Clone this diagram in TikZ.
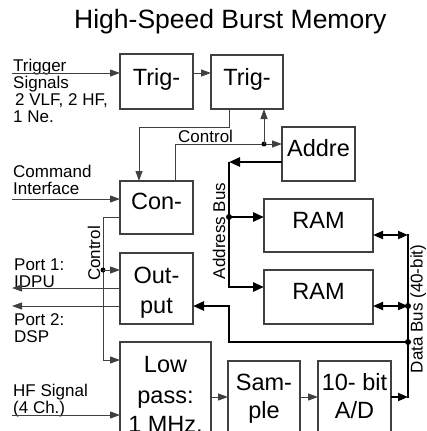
\documentclass[tikz,border=0pt]{standalone}
\usepackage{fontspec}
\setmainfont{Liberation Sans}
\usetikzlibrary{arrows.meta,calc}
\begin{document}
\begin{tikzpicture}[x=1pt,y=-1pt,
  box/.style={draw=black!75,line width=1.1pt},
  big/.style={font=\fontsize{23.5}{30}\selectfont,inner sep=0pt,anchor=base},
  small/.style={font=\fontsize{17}{17.5}\selectfont,inner sep=0pt,anchor=base west},
  thin/.style={draw=black!75,line width=1pt},
  arr/.style={thin,-{Triangle[length=10pt,width=7pt]}},
  bus/.style={draw=black,line width=2.6pt,line join=miter},
  busarr/.style={bus,-{Triangle[length=11pt,width=9pt]}},
  bidir/.style={draw=black,line width=1.8pt,{Triangle[length=10pt,width=8pt]}-{Triangle[length=10pt,width=8pt]}},
  dot/.style={circle,fill=black,inner sep=0pt,minimum size=5pt},
  area/.style={inner sep=0pt,outer sep=0pt,rectangle}
]
\useasboundingbox (0,0) rectangle (427,431);

% title
\node[font=\fontsize{26.5}{30}\selectfont,anchor=base west,inner sep=0pt] (title) at (74,28) {High-Speed Burst Memory};

% boxes
\draw[box] (120,54) rectangle (193,109) node[area,midway,minimum width=73pt,minimum height=55pt] (trigA) {};
\draw[box] (211,55) rectangle (283,109) node[area,midway,minimum width=72pt,minimum height=54pt] (trigB) {};
\draw[box] (282,127) rectangle (355,181) node[area,midway,minimum width=73pt,minimum height=54pt] (addr) {};
\draw[box] (120,181) rectangle (193,234) node[area,midway,minimum width=73pt,minimum height=53pt] (con) {};
\draw[box] (264,199) rectangle (373,252) node[area,midway,minimum width=109pt,minimum height=53pt] (ram1) {};
\draw[box] (264,270) rectangle (373,324) node[area,midway,minimum width=109pt,minimum height=54pt] (ram2) {};
\draw[box] (120,253) rectangle (193,324) node[area,midway,minimum width=73pt,minimum height=71pt] (out) {};
\draw[box] (120,342) rectangle (211,436) node[area,midway,minimum width=91pt,minimum height=94pt] (low) {};
\draw[box] (228,361) rectangle (300,436) node[area,midway,minimum width=72pt,minimum height=75pt] (samp) {};
\draw[box] (318,361) rectangle (391,436) node[area,midway,minimum width=73pt,minimum height=75pt] (ad) {};

% box labels
\node[big] (tTrigA) at (156.5,85) {Trig-};
\node[big] (tTrigB) at (247,85) {Trig-};
\node[big] (tAddr) at (318.5,156) {Addre};
\node[big] (tCon) at (156.5,209) {Con-};
\node[big] (tRam1) at (318.5,228) {RAM};
\node[big] (tRam2) at (318.5,299) {RAM};
\node[big] (tOut1) at (156.5,283) {Out-};
\node[big] (tOut2) at (156.5,313) {put};
\node[big] (tLow1) at (165.5,372) {Low};
\node[big] (tLow2) at (165.5,403) {pass:};
\node[big] (tLow3) at (165.5,432) {1 MHz.};
\node[big] (tSam1) at (264,390) {Sam-};
\node[big] (tSam2) at (264,418) {ple};
\node[big] (tAd1) at (354.5,390) {10- bit};
\node[big] (tAd2) at (354.5,418) {A/D};

% side labels
\node[small] (lTr1) at (13,71) {Trigger};
\node[small] (lTr2) at (13,88) {Signals};
\node[small] (lTr3) at (15,105) {2 VLF, 2 HF,};
\node[small] (lTr4) at (13,122) {1 Ne.};
\node[small] (lCm1) at (13,177) {Command};
\node[small] (lCm2) at (13,194) {Interface};
\node[small] (lP11) at (14,270) {Port 1:};
\node[small] (lP12) at (14,287) {IDPU};
\node[small] (lP21) at (14,325) {Port 2:};
\node[small] (lP22) at (14,342) {DSP};
\node[small] (lHf1) at (13,396) {HF Signal};
\node[small] (lHf2) at (13,413) {(4 Ch.)};
\node[small] (lCtl1) at (178,142) {Control};
\node[small,anchor=base,rotate=90] (lCtl2) at (100,253.5) {Control};
\node[small,anchor=base,rotate=90] (lAb) at (225,231) {Address Bus};
\node[small,anchor=base,rotate=90] (lDb) at (422.5,309) {Data Bus (40-bit)};

% coordinates
\coordinate (tin) at (12,73);
\coordinate (cmd) at (12,199);
\coordinate (p1) at (12,288);
\coordinate (p2) at (12,306);
\coordinate (hf) at (12,415);
\coordinate (cy) at (175,144);
\coordinate (c3) at (103,217);
\coordinate (c4) at (103,360);
\coordinate (abtop) at (229,162);
\coordinate (ab2) at (229,287);
\coordinate (db1) at (408,235);
\coordinate (db2) at (408,306);
\coordinate (db3) at (408,342);
\coordinate (db4) at (408,397);
\coordinate (dbx) at (229,342);
\coordinate (o2) at (229,306);

% inputs / outputs
\draw[arr] (tin) -- (tin -| trigA.west);
\draw[arr] (trigA.east |- tin) -- (trigB.west |- tin);
\draw[arr] (cmd) -- (cmd -| con.west);
\draw[arr] (p1 -| out.west) -- (p1);
\draw[arr] (p2 -| out.west) -- (p2);
\draw[arr] (hf) -- (hf -| low.west);

% control lines
\draw[arr] ($(trigB.south west)+(18,0)$) -- ++(0,18) -| ($(con.north west)+(19,0)$);
\draw[arr] ($(con.north west)+(55,0)$) |- (addr.west |- cy);
\node[dot] (d1) at (264,144) {};
\draw[arr] (d1.center) -- (d1.center |- trigB.south);
\draw[arr] (con.west |- c3) -- (c3) -- (c4) -- (c4 -| low.west);
\node[dot] (d3) at (103,270) {};
\draw[arr] (d3.center) -- (d3.center -| out.west);

% address bus
\draw[busarr] (addr.west |- abtop) -- (abtop);
\draw[busarr] (abtop) -- (ab2) -- (ab2 -| ram2.west);
\node[dot,minimum size=6pt] (d2) at (229,217) {};
\draw[busarr] (d2.center) -- (d2.center -| ram1.west);

% data bus
\draw[bus,line cap=rect] (db1) -- (db4);
\draw[bidir] (ram1.east |- db1) -- (db1);
\draw[bidir] (ram2.east |- db2) -- (db2);
\node[dot,minimum size=6pt] (d4) at (db2) {};
\node[dot,minimum size=6pt] (d5) at (db3) {};
\draw[busarr] (db3) -- (dbx) -- (o2) -- (o2 -| out.east);

% signal chain
\draw[arr] (low.east |- db4) -- (samp.west |- db4);
\draw[arr] (samp.east |- db4) -- (ad.west |- db4);
\draw[draw=black,line width=1.8pt,-{Triangle[length=10pt,width=8pt]}] (ad.east |- db4) -- (db4);
\end{tikzpicture}
\end{document}
